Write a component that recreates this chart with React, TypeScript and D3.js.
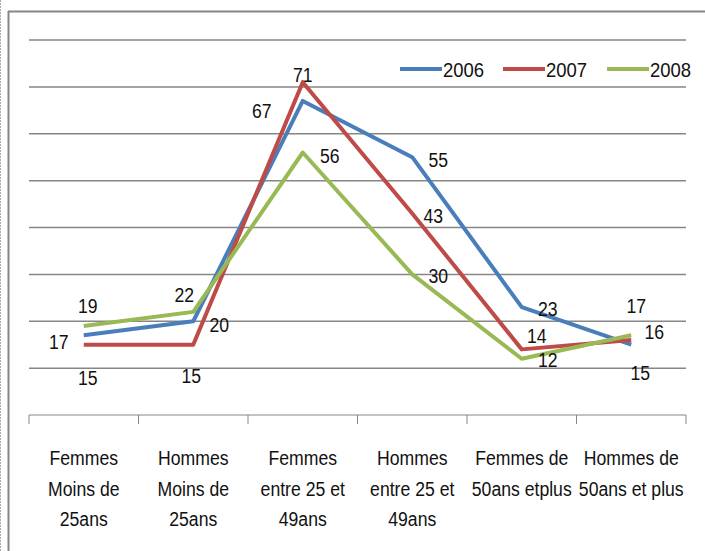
import React from 'react';
import * as d3 from 'd3';

const categories = [
    ['Femmes', 'Moins de', '25ans'],
    ['Hommes', 'Moins de', '25ans'],
    ['Femmes', 'entre 25 et', '49ans'],
    ['Hommes', 'entre 25 et', '49ans'],
    ['Femmes de', '50ans etplus'],
    ['Hommes de', '50ans et plus'],
];
const years = ['2006', '2007', '2008'];
const values2006 = [17, 20, 67, 55, 23, 15];
const values2007 = [15, 15, 71, 43, 14, 16];
const values2008 = [19, 22, 56, 30, 12, 17];
const gridTicks = [10, 20, 30, 40, 50, 60, 70, 80];

// where each value label sits relative to its point (Excel placed them by hand)
const labelShift2006 = [[-25, 14], [26, 11], [-41, 17], [26, 10], [26, 9], [9, 35]];
const labelShift2007 = [[4, 40], [-2, 38], [0, 0], [21, 10], [15, -6], [23, -1]];
const labelShift2008 = [[4, -13], [-9, -10], [27, 10], [26, 9], [26, 8], [5, -22]];

const colors = ['#4A7EBB', '#BE4B48', '#98B954'];
const font = "'Liberation Sans', Arial, sans-serif";

// the original font is a tall narrow one, so squeeze Liberation Sans sideways
function Narrow({ x, y, sx = 0.84, anchor = 'middle', children }) {
    return (
        <text
            transform={`translate(${x},${y}) scale(${sx},1)`}
            textAnchor={anchor}
            fontSize={21}
            fill="#111"
        >
            {children}
        </text>
    );
}

export default function App() {
    const width = 705;
    const height = 551;
    const series = [
        { name: years[0], values: values2006, shift: labelShift2006 },
        { name: years[1], values: values2007, shift: labelShift2007 },
        { name: years[2], values: values2008, shift: labelShift2008 },
    ];

    const x = d3
        .scaleBand<number>()
        .domain(d3.range(categories.length))
        .range([29, 686]);
    const cx = (i: number) => (x(i) as number) + x.bandwidth() / 2;
    const y = d3.scaleLinear().domain([0, 80]).range([415, 40]);

    const line = d3
        .line<number>()
        .x((d, i) => cx(i))
        .y(d => y(d));

    const legendX = [400, 503, 607];

    return (
        <svg
            width={width}
            height={height}
            style={{ position: 'absolute', left: 0, top: 0, background: '#fff' }}
            fontFamily={font}
        >
            <line x1={0.5} y1={0} x2={0.5} y2={height} stroke="#aaa" strokeDasharray="2,1" />
            <line x1={8.5} y1={11} x2={8.5} y2={height} stroke="#868686" strokeWidth={2} />
            <line x1={8} y1={11.5} x2={width} y2={11.5} stroke="#868686" strokeWidth={2} />

            {gridTicks.map(t => (
                <line key={t} x1={29} x2={686} y1={y(t)} y2={y(t)} stroke="#868686" strokeWidth={1.5} />
            ))}
            <line x1={29} x2={686} y1={y(0)} y2={y(0)} stroke="#868686" strokeWidth={1} />
            {d3.range(categories.length + 1).map(i => {
                const tx = i < categories.length ? (x(i) as number) : 686;
                return <line key={i} x1={tx} x2={tx} y1={y(0)} y2={y(0) + 9} stroke="#868686" />;
            })}

            {categories.map((lines, i) =>
                lines.map((l, j) => (
                    <Narrow key={i + '-' + j} x={cx(i)} y={465 + j * 30.5}>
                        {l}
                    </Narrow>
                ))
            )}

            {series.map((s, k) => (
                <path
                    key={s.name}
                    d={line(s.values) as string}
                    fill="none"
                    stroke={colors[k]}
                    strokeWidth={4}
                    strokeLinejoin="round"
                />
            ))}

            {series.map(s =>
                s.values.map((v, i) => (
                    <Narrow key={s.name + i} x={cx(i) + s.shift[i][0]} y={y(v) + s.shift[i][1]}>
                        {v}
                    </Narrow>
                ))
            )}

            {series.map((s, k) => (
                <g key={s.name} transform={`translate(${legendX[k]},69)`}>
                    <line x1={0} x2={42} y1={0} y2={0} stroke={colors[k]} strokeWidth={4} />
                    <Narrow x={43} y={8} sx={0.88} anchor="start">
                        {s.name}
                    </Narrow>
                </g>
            ))}
        </svg>
    );
}
